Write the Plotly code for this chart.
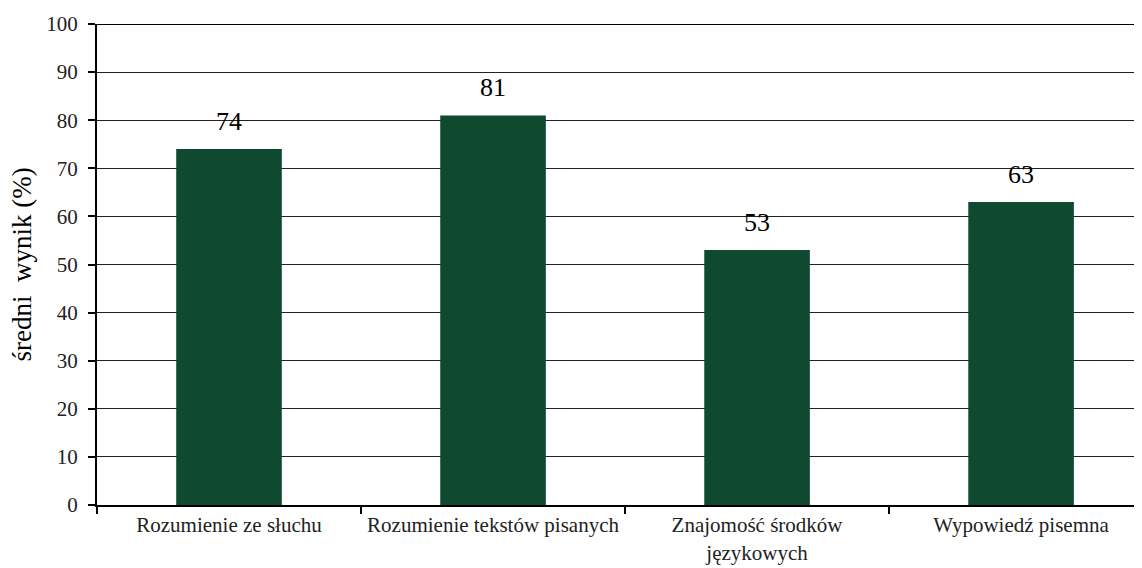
import plotly.graph_objects as go

categories = ["Rozumienie ze słuchu", "Rozumienie tekstów pisanych",
              "Znajomość środków<br>językowych", "Wypowiedź pisemna"]
values = [74, 81, 53, 63]
y_ticks = [0, 10, 20, 30, 40, 50, 60, 70, 80, 90, 100]
y_title = "średni  wynik (%)"

FONT = "Liberation Serif"
fig = go.Figure()
fig.add_trace(go.Bar(x=categories, y=values, marker=dict(color="#0f4a30", line=dict(width=0)),
                     width=0.4, hoverinfo="skip"))
for c, v in zip(categories, values):
    fig.add_annotation(x=c, y=v, text=str(v), showarrow=False, yanchor="bottom", yshift=11,
                       font=dict(family=FONT, size=26, color="#000"))

fig.add_annotation(text=y_title, xref="paper", yref="paper", x=-0.0718, y=0.5,
                   xanchor="center", yanchor="middle", textangle=-90, showarrow=False,
                   font=dict(family=FONT, size=27, color="#000"))

fig.update_layout(
    width=1134, height=560,
    margin=dict(l=89, r=0, t=16, b=63),
    paper_bgcolor="white", plot_bgcolor="white",
    showlegend=False,
    font=dict(family=FONT, color="#000"),
)
fig.update_xaxes(
    range=[-0.5, 3.458], tickson="boundaries", ticks="outside", ticklen=7, tickwidth=2,
    tickcolor="#000", showline=True, linecolor="#000", linewidth=2, showgrid=False,
    tickfont=dict(family=FONT, size=21, color="#222"), fixedrange=True,
)
fig.update_yaxes(
    range=[0, 100], tickvals=y_ticks, ticks="outside", ticklen=7, tickwidth=2, tickcolor="#000",
    showline=True, linecolor="#000", linewidth=2, showgrid=True, gridcolor="#222", gridwidth=1,
    tickfont=dict(family=FONT, size=21, color="#222"), zeroline=False, ticklabelstandoff=6,
)
fig.add_shape(type="line", xref="paper", yref="y", x0=0, x1=1, y0=100, y1=100,
              line=dict(color="#000", width=2))
fig.write_html("out.html")
